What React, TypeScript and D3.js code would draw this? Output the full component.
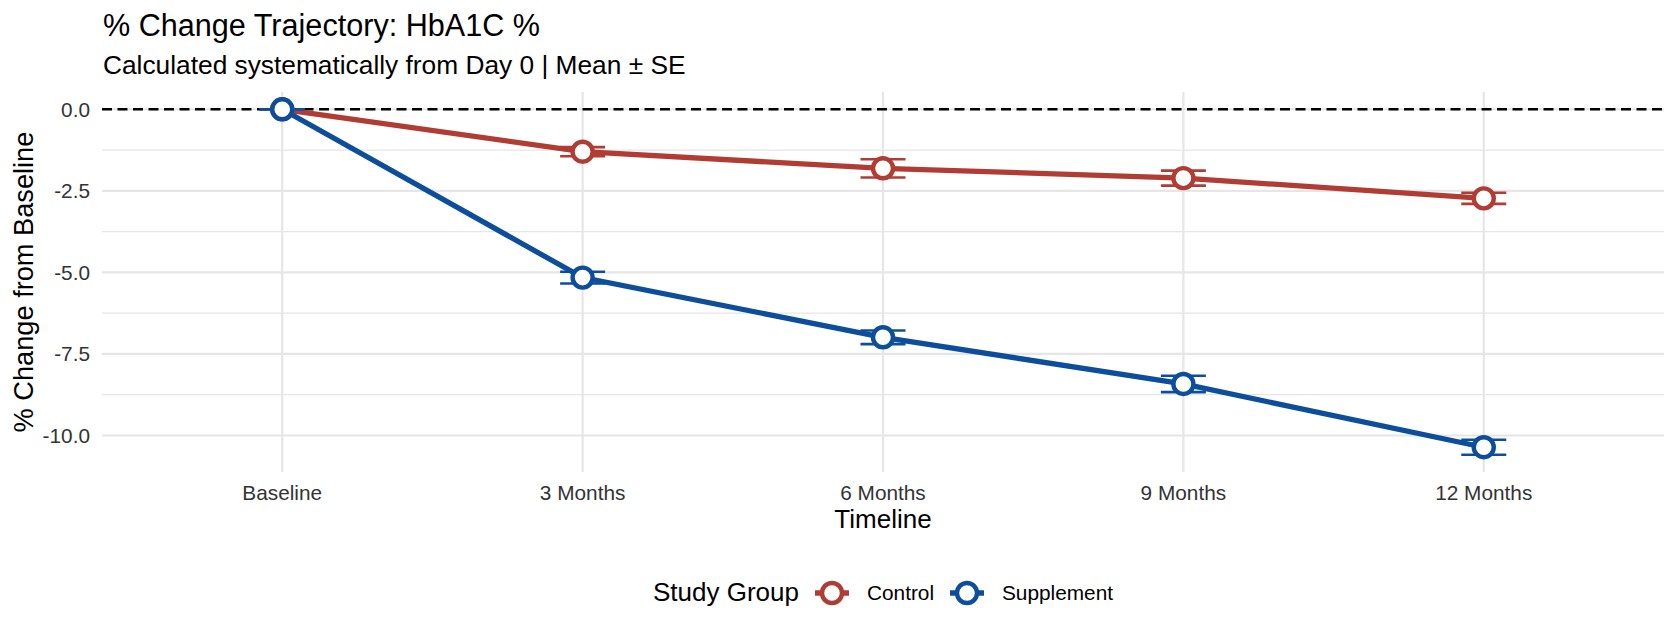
import { scaleLinear, line } from 'd3'

// HbA1C % change trajectory, mean ± SE per study group, ggplot-minimal look.

const TIMEPOINTS = ['Baseline', '3 Months', '6 Months', '9 Months', '12 Months']
const GROUPS = ['Control', 'Supplement']
const CONTROL_MEAN = [0, -1.3, -1.81, -2.11, -2.73]
const CONTROL_SE = [0, 0.14, 0.28, 0.23, 0.17]
const SUPPLEMENT_MEAN = [0, -5.16, -6.99, -8.42, -10.36]
const SUPPLEMENT_SE = [0, 0.18, 0.21, 0.25, 0.23]
const Y_TICKS = [0, -2.5, -5, -7.5, -10]
const Y_MINOR = [-1.25, -3.75, -6.25, -8.75]

const COLORS: Record<string, string> = { Control: '#B03C34', Supplement: '#0D4E9C' }
const FONT = '"Liberation Sans", Arial, Helvetica, sans-serif'
const GRID = '#E6E6E6'

const W = 1666
const H = 640
const panel = { left: 102, right: 1664, top: 92, bottom: 472 }

const series = [
  { group: GROUPS[0], mean: CONTROL_MEAN, se: CONTROL_SE },
  { group: GROUPS[1], mean: SUPPLEMENT_MEAN, se: SUPPLEMENT_SE },
]

export default function App() {
  // ggplot-style expansion: 0.6 units on a discrete axis, 5% on a continuous one
  const x = scaleLinear()
    .domain([-0.6, TIMEPOINTS.length - 1 + 0.6])
    .range([panel.left, panel.right])
  const lo = Math.min(...series.flatMap((s) => s.mean.map((m, i) => m - s.se[i])))
  const hi = Math.max(0, ...series.flatMap((s) => s.mean.map((m, i) => m + s.se[i])))
  const pad = (hi - lo) * 0.05
  const y = scaleLinear().domain([lo - pad, hi + pad]).range([panel.bottom, panel.top])
  const path = line<number>()
    .x((_, i) => x(i))
    .y((d) => y(d))
  const cap = 22.5

  return (
    <>
      <style>{'body{margin:0}'}</style>
      <svg width={W} height={H} viewBox={`0 0 ${W} ${H}`} fontFamily={FONT} style={{ display: 'block' }}>
        <rect width={W} height={H} fill="#fff" />

        <text x={103} y={36} fontSize={30.6} fill="#000">
          % Change Trajectory: HbA1C %
        </text>
        <text x={103} y={74} fontSize={26.3} fill="#000">
          Calculated systematically from Day 0 | Mean ± SE
        </text>

        {Y_MINOR.map((t) => (
          <line key={t} x1={panel.left} x2={panel.right} y1={y(t)} y2={y(t)} stroke={GRID} strokeWidth={1.2} />
        ))}
        {Y_TICKS.map((t) => (
          <g key={t}>
            <line x1={panel.left} x2={panel.right} y1={y(t)} y2={y(t)} stroke={GRID} strokeWidth={2.2} />
            <text x={90} y={y(t)} textAnchor="end" dominantBaseline="central" fontSize={20.8} fill="#333">
              {t.toFixed(1)}
            </text>
          </g>
        ))}
        {TIMEPOINTS.map((label, i) => (
          <g key={label}>
            <line x1={x(i)} x2={x(i)} y1={panel.top} y2={panel.bottom} stroke={GRID} strokeWidth={2.2} />
            <text x={x(i)} y={500} textAnchor="middle" fontSize={20.8} fill="#333">
              {label}
            </text>
          </g>
        ))}

        <line
          x1={panel.left}
          x2={panel.right}
          y1={y(0)}
          y2={y(0)}
          stroke="#000"
          strokeWidth={2.4}
          strokeDasharray="10 5.5"
        />

        {series.map((s) => (
          <path key={s.group} d={path(s.mean) ?? ''} fill="none" stroke={COLORS[s.group]} strokeWidth={5.3} />
        ))}
        {series.map((s) =>
          s.mean.map((m, i) => {
            const c = COLORS[s.group]
            const top = y(m + s.se[i])
            const bot = y(m - s.se[i])
            return (
              <g key={`${s.group}-${i}`} stroke={c} strokeWidth={2.6}>
                <line x1={x(i)} x2={x(i)} y1={top} y2={bot} />
                <line x1={x(i) - cap} x2={x(i) + cap} y1={top} y2={top} />
                <line x1={x(i) - cap} x2={x(i) + cap} y1={bot} y2={bot} />
              </g>
            )
          })
        )}
        {series.map((s) =>
          s.mean.map((m, i) => (
            <circle
              key={`${s.group}-p${i}`}
              cx={x(i)}
              cy={y(m)}
              r={10}
              fill="#fff"
              stroke={COLORS[s.group]}
              strokeWidth={4.4}
            />
          ))
        )}

        <text
          transform={`translate(33, ${(panel.top + panel.bottom) / 2}) rotate(-90)`}
          textAnchor="middle"
          fontSize={27.2}
          fill="#000"
        >
          % Change from Baseline
        </text>
        <text x={(panel.left + panel.right) / 2} y={528} textAnchor="middle" fontSize={26} fill="#000">
          Timeline
        </text>

        {/* legend */}
        <text x={653} y={601} fontSize={26} fill="#000">
          Study Group
        </text>
        {[
          { group: GROUPS[0], key: 832, label: 867 },
          { group: GROUPS[1], key: 967, label: 1002 },
        ].map((d) => (
          <g key={d.group}>
            <line x1={d.key - 17} x2={d.key + 17} y1={593} y2={593} stroke={COLORS[d.group]} strokeWidth={5.3} />
            <circle cx={d.key} cy={593} r={10} fill="#fff" stroke={COLORS[d.group]} strokeWidth={4.4} />
            <text x={d.label} y={600} fontSize={20.8} fill="#000">
              {d.group}
            </text>
          </g>
        ))}
      </svg>
    </>
  )
}
